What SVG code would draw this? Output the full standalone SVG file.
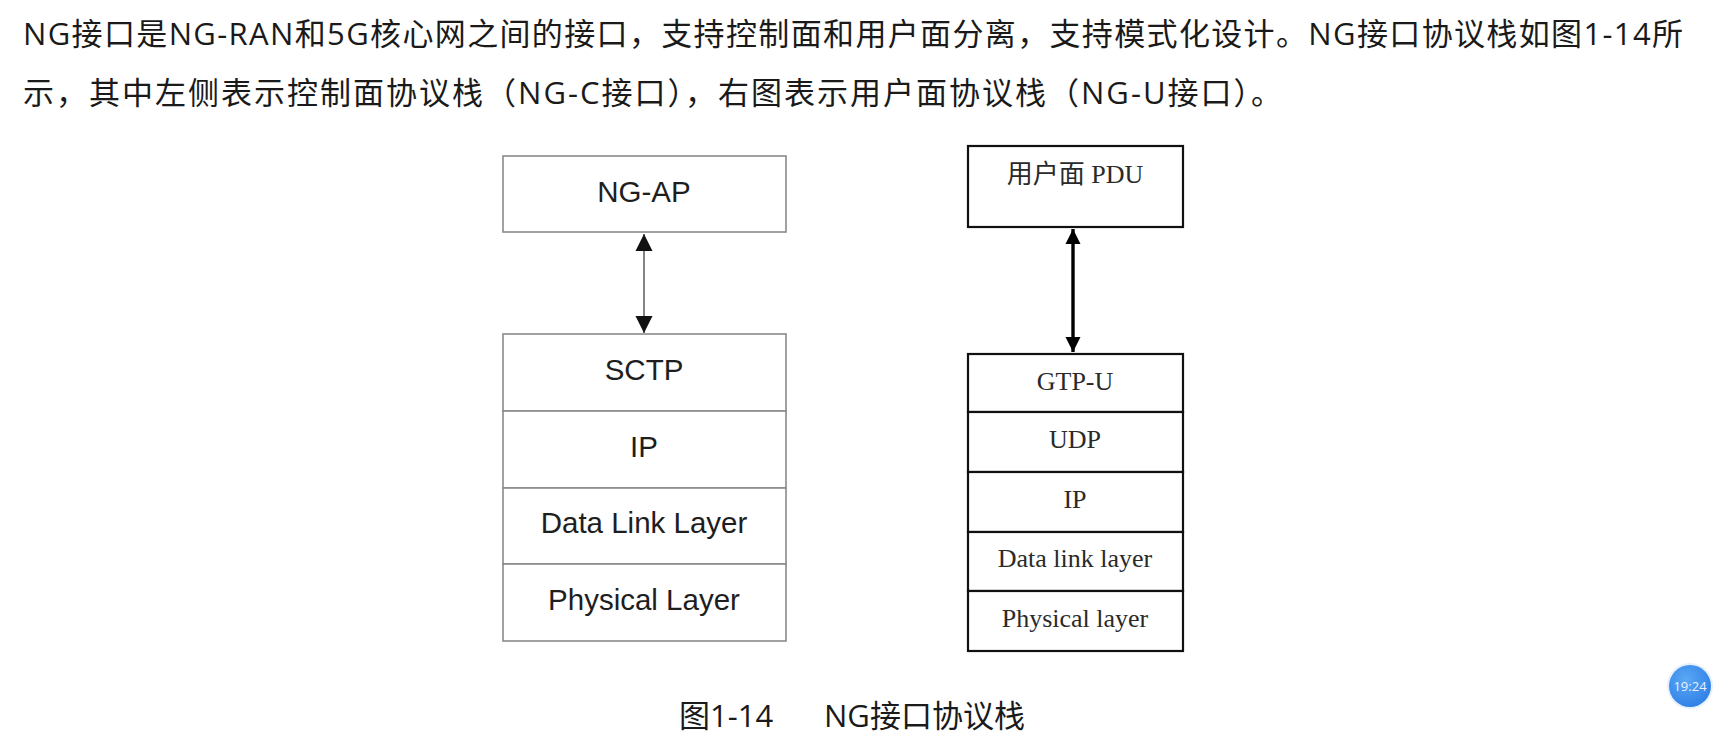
<svg xmlns="http://www.w3.org/2000/svg" width="1735" height="737" viewBox="0 0 1735 737">
<style>
.hd{font-family:"Open Sans","Noto Sans CJK SC",sans-serif;font-size:31px;fill:#1a1a1a}
.lbox{fill:#fff;stroke:#8a8a8a;stroke-width:1.6}
.ltxt{font-family:"Liberation Sans",Arial,sans-serif;font-size:29.5px;fill:#1e1e1e;text-anchor:middle}
.rbox{fill:#fff;stroke:#111;stroke-width:2.2}
.rtxt{font-family:"Liberation Serif","Noto Sans CJK SC",serif;font-size:26px;fill:#2a2a2a;text-anchor:middle}
</style>
<defs>
<marker id="ah" viewBox="0 0 10 10" refX="10" refY="5" markerWidth="17" markerHeight="18" markerUnits="userSpaceOnUse" orient="auto-start-reverse"><path d="M0,0 L10,5 L0,10 Z" fill="#111"/></marker>
<marker id="ah2" viewBox="0 0 10 10" refX="10" refY="5" markerWidth="15" markerHeight="16" markerUnits="userSpaceOnUse" orient="auto-start-reverse"><path d="M0,0 L10,5 L0,10 Z" fill="#000"/></marker>
<radialGradient id="bg" cx="0.4" cy="0.35" r="0.7"><stop offset="0" stop-color="#5aa8f5"/><stop offset="1" stop-color="#2f7fe6"/></radialGradient>
</defs>
<rect width="1735" height="737" fill="#fff"/>
<g id="header">
<text class="hd" x="23" y="45" textLength="1660" lengthAdjust="spacing">NG接口是NG-RAN和5G核心网之间的接口，支持控制面和用户面分离，支持模式化设计。NG接口协议栈如图1-14所</text>
<text class="hd" x="23" y="104" textLength="1259" lengthAdjust="spacing">示，其中左侧表示控制面协议栈（NG-C接口），右图表示用户面协议栈（NG-U接口）。</text>
</g>
<g id="left-ngap"><rect class="lbox" x="503" y="156" width="283" height="76"/><text class="ltxt" x="644" y="202">NG-AP</text></g>
<g id="left-sctp"><rect class="lbox" x="503" y="334" width="283" height="77"/><text class="ltxt" x="644" y="380">SCTP</text></g>
<g id="left-ip"><rect class="lbox" x="503" y="411" width="283" height="77"/><text class="ltxt" x="644" y="457">IP</text></g>
<g id="left-dll"><rect class="lbox" x="503" y="488" width="283" height="76"/><text class="ltxt" x="644" y="533">Data Link Layer</text></g>
<g id="left-phy"><rect class="lbox" x="503" y="564" width="283" height="77"/><text class="ltxt" x="644" y="610">Physical Layer</text></g>
<g id="right-pdu"><rect class="rbox" x="968" y="146" width="215" height="81"/><text class="rtxt" x="1075" y="183">用户面 PDU</text></g>
<g id="right-gtpu"><rect class="rbox" x="968" y="354" width="215" height="58"/><text class="rtxt" x="1075" y="390">GTP-U</text></g>
<g id="right-udp"><rect class="rbox" x="968" y="412" width="215" height="60"/><text class="rtxt" x="1075" y="448">UDP</text></g>
<g id="right-ip"><rect class="rbox" x="968" y="472" width="215" height="60"/><text class="rtxt" x="1075" y="508">IP</text></g>
<g id="right-dll"><rect class="rbox" x="968" y="532" width="215" height="59"/><text class="rtxt" x="1075" y="567">Data link layer</text></g>
<g id="right-phy"><rect class="rbox" x="968" y="591" width="215" height="60"/><text class="rtxt" x="1075" y="627">Physical layer</text></g>
<g id="connectors">
<line x1="644" y1="234" x2="644" y2="333" stroke="#6e6e6e" stroke-width="1.7" marker-start="url(#ah)" marker-end="url(#ah)"/>
<line x1="1073" y1="229" x2="1073" y2="352" stroke="#000" stroke-width="3.4" marker-start="url(#ah2)" marker-end="url(#ah2)"/>
</g>
<g id="caption">
<text class="hd" y="727"><tspan x="679">图1-14</tspan><tspan x="824">NG接口协议栈</tspan></text>
</g>
<g id="badge">
<circle cx="1690" cy="686" r="23" fill="#e6f1fd"/>
<circle cx="1690" cy="686" r="21" fill="url(#bg)"/>
<text x="1690" y="691" font-family="Open Sans,sans-serif" font-size="13" fill="#e8f2ff" text-anchor="middle">19:24</text>
</g>
</svg>
